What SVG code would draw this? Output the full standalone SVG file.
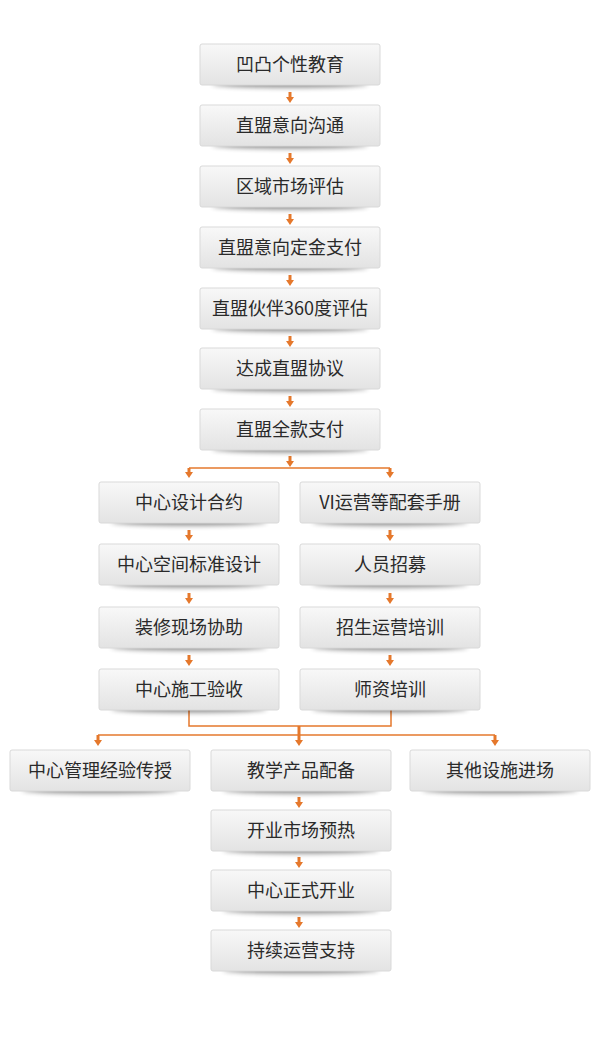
<svg xmlns="http://www.w3.org/2000/svg" width="600" height="1037" viewBox="0 0 600 1037">
<style>
.box{fill:url(#g);stroke:#d9d9d9;stroke-width:1}
.sh{fill:#000;opacity:.45;filter:url(#b)}
.t{font-family:"Noto Sans CJK SC","Noto Sans",sans-serif;font-size:18px;fill:#2a2a2a;text-anchor:middle}
.c{stroke:#e5782c;fill:none;stroke-width:1.5}
.a{stroke:#e5782c;fill:none;stroke-width:3;marker-end:url(#h)}
</style>
<defs>
<linearGradient id="g" x1="0" y1="0" x2="0" y2="1">
<stop offset="0" stop-color="#f8f8f8"/>
<stop offset="1" stop-color="#e3e3e3"/>
</linearGradient>
<filter id="b" x="-20%" y="-200%" width="140%" height="500%"><feGaussianBlur stdDeviation="2.5"/></filter>
<marker id="h" markerUnits="userSpaceOnUse" markerWidth="6" markerHeight="8" viewBox="0 0 6 8" refX="0" refY="4" orient="auto">
<path d="M0,0 L6,4 L0,8 z" fill="#e5782c"/>
</marker>
</defs>
<rect width="600" height="1037" fill="#fff"/>

<g id="connectors">
<line class="a" x1="290" y1="92" x2="290" y2="97"/>
<line class="a" x1="290" y1="153" x2="290" y2="158"/>
<line class="a" x1="290" y1="214" x2="290" y2="219"/>
<line class="a" x1="290" y1="275" x2="290" y2="280"/>
<line class="a" x1="290" y1="336" x2="290" y2="341"/>
<line class="a" x1="290" y1="396" x2="290" y2="401"/>
<line class="a" x1="290" y1="456" x2="290" y2="461"/>
<path class="c" d="M189,468 H390"/>
<line class="a" x1="189" y1="468" x2="189" y2="472"/>
<line class="a" x1="390" y1="468" x2="390" y2="472"/>
<line class="a" x1="189" y1="530" x2="189" y2="535"/>
<line class="a" x1="390" y1="530" x2="390" y2="535"/>
<line class="a" x1="189" y1="593" x2="189" y2="598"/>
<line class="a" x1="390" y1="593" x2="390" y2="598"/>
<line class="a" x1="189" y1="655" x2="189" y2="660"/>
<line class="a" x1="390" y1="655" x2="390" y2="660"/>
<path class="c" d="M189,710 V726 H391 V710"/>
<path class="c" d="M98,735 H495"/>
<line class="a" x1="299" y1="726" x2="299" y2="740"/>
<line class="a" x1="98" y1="735" x2="98" y2="740"/>
<line class="a" x1="495" y1="735" x2="495" y2="740"/>
<line class="a" x1="299" y1="797" x2="299" y2="802"/>
<line class="a" x1="299" y1="857" x2="299" y2="862"/>
<line class="a" x1="299" y1="917" x2="299" y2="922"/>
</g>

<g id="n1" transform="translate(200,44)"><ellipse class="sh" cx="90" cy="40" rx="78" ry="3.5"/><rect class="box" width="180" height="41" rx="2"/><text class="t" x="90" y="27">凹凸个性教育</text></g>
<g id="n2" transform="translate(200,105)"><ellipse class="sh" cx="90" cy="40" rx="78" ry="3.5"/><rect class="box" width="180" height="41" rx="2"/><text class="t" x="90" y="27">直盟意向沟通</text></g>
<g id="n3" transform="translate(200,166)"><ellipse class="sh" cx="90" cy="40" rx="78" ry="3.5"/><rect class="box" width="180" height="41" rx="2"/><text class="t" x="90" y="27">区域市场评估</text></g>
<g id="n4" transform="translate(200,227)"><ellipse class="sh" cx="90" cy="40" rx="78" ry="3.5"/><rect class="box" width="180" height="41" rx="2"/><text class="t" x="90" y="27">直盟意向定金支付</text></g>
<g id="n5" transform="translate(200,288)"><ellipse class="sh" cx="90" cy="40" rx="78" ry="3.5"/><rect class="box" width="180" height="41" rx="2"/><text class="t" x="90" y="27">直盟伙伴360度评估</text></g>
<g id="n6" transform="translate(200,348)"><ellipse class="sh" cx="90" cy="40" rx="78" ry="3.5"/><rect class="box" width="180" height="41" rx="2"/><text class="t" x="90" y="27">达成直盟协议</text></g>
<g id="n7" transform="translate(200,409)"><ellipse class="sh" cx="90" cy="40" rx="78" ry="3.5"/><rect class="box" width="180" height="41" rx="2"/><text class="t" x="90" y="27">直盟全款支付</text></g>

<g id="l1" transform="translate(99,482)"><ellipse class="sh" cx="90" cy="40" rx="78" ry="3.5"/><rect class="box" width="180" height="41" rx="2"/><text class="t" x="90" y="27">中心设计合约</text></g>
<g id="l2" transform="translate(99,544)"><ellipse class="sh" cx="90" cy="40" rx="78" ry="3.5"/><rect class="box" width="180" height="41" rx="2"/><text class="t" x="90" y="27">中心空间标准设计</text></g>
<g id="l3" transform="translate(99,607)"><ellipse class="sh" cx="90" cy="40" rx="78" ry="3.5"/><rect class="box" width="180" height="41" rx="2"/><text class="t" x="90" y="27">装修现场协助</text></g>
<g id="l4" transform="translate(99,669)"><ellipse class="sh" cx="90" cy="40" rx="78" ry="3.5"/><rect class="box" width="180" height="41" rx="2"/><text class="t" x="90" y="27">中心施工验收</text></g>

<g id="r1" transform="translate(300,482)"><ellipse class="sh" cx="90" cy="40" rx="78" ry="3.5"/><rect class="box" width="180" height="41" rx="2"/><text class="t" x="90" y="27">VI运营等配套手册</text></g>
<g id="r2" transform="translate(300,544)"><ellipse class="sh" cx="90" cy="40" rx="78" ry="3.5"/><rect class="box" width="180" height="41" rx="2"/><text class="t" x="90" y="27">人员招募</text></g>
<g id="r3" transform="translate(300,607)"><ellipse class="sh" cx="90" cy="40" rx="78" ry="3.5"/><rect class="box" width="180" height="41" rx="2"/><text class="t" x="90" y="27">招生运营培训</text></g>
<g id="r4" transform="translate(300,669)"><ellipse class="sh" cx="90" cy="40" rx="78" ry="3.5"/><rect class="box" width="180" height="41" rx="2"/><text class="t" x="90" y="27">师资培训</text></g>

<g id="b1" transform="translate(10,750)"><ellipse class="sh" cx="90" cy="40" rx="78" ry="3.5"/><rect class="box" width="180" height="41" rx="2"/><text class="t" x="90" y="27">中心管理经验传授</text></g>
<g id="b2" transform="translate(211,750)"><ellipse class="sh" cx="90" cy="40" rx="78" ry="3.5"/><rect class="box" width="180" height="41" rx="2"/><text class="t" x="90" y="27">教学产品配备</text></g>
<g id="b3" transform="translate(410,750)"><ellipse class="sh" cx="90" cy="40" rx="78" ry="3.5"/><rect class="box" width="180" height="41" rx="2"/><text class="t" x="90" y="27">其他设施进场</text></g>

<g id="s1" transform="translate(211,810)"><ellipse class="sh" cx="90" cy="40" rx="78" ry="3.5"/><rect class="box" width="180" height="41" rx="2"/><text class="t" x="90" y="27">开业市场预热</text></g>
<g id="s2" transform="translate(211,870)"><ellipse class="sh" cx="90" cy="40" rx="78" ry="3.5"/><rect class="box" width="180" height="41" rx="2"/><text class="t" x="90" y="27">中心正式开业</text></g>
<g id="s3" transform="translate(211,930)"><ellipse class="sh" cx="90" cy="40" rx="78" ry="3.5"/><rect class="box" width="180" height="41" rx="2"/><text class="t" x="90" y="27">持续运营支持</text></g>
</svg>
